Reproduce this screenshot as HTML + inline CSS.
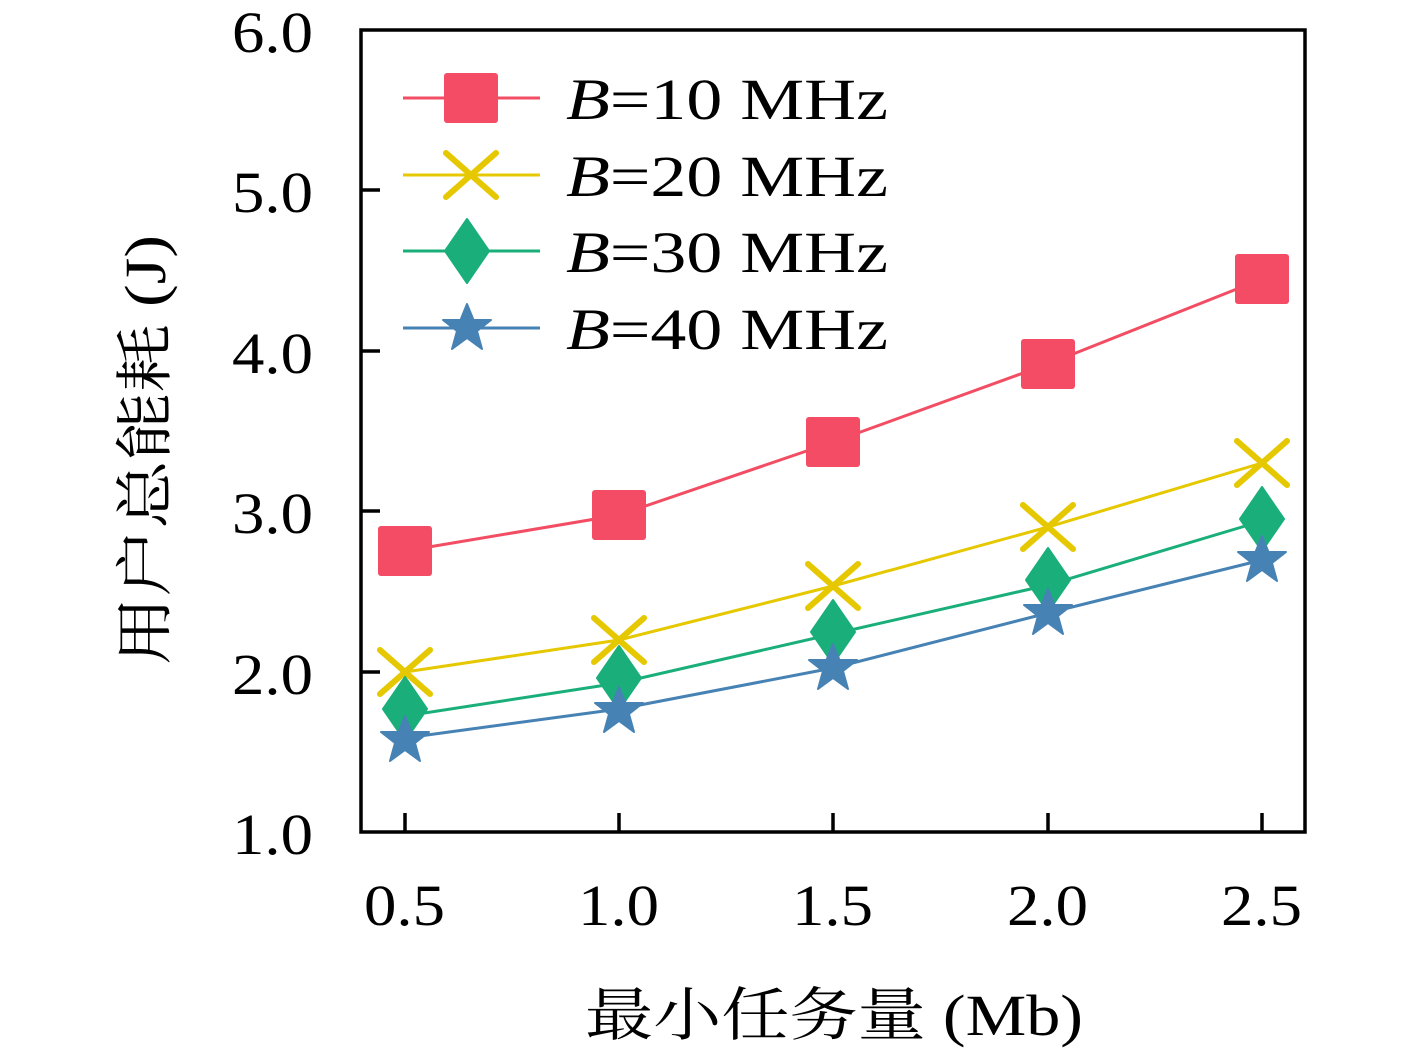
<!DOCTYPE html>
<html><head><meta charset="utf-8"><style>html,body{margin:0;padding:0;background:#fff}svg{display:block}</style></head>
<body>
<svg width="1417" height="1050" viewBox="0 0 1417 1050" xmlns="http://www.w3.org/2000/svg" font-family="'Liberation Serif','Noto Serif CJK SC',serif">
<defs>
<rect id="sq" x="-27" y="-25" width="54" height="50" rx="3" fill="#f44c64"/>
<g id="xx" stroke="#e6c800" stroke-width="6" stroke-linecap="round"><line x1="-25" y1="-22" x2="25" y2="22"/><line x1="-25" y1="22" x2="25" y2="-22"/></g>
<path id="dm" d="M0,-32 L22,0 L0,32 L-22,0 Z" fill="#1aaf7a" stroke="#1aaf7a" stroke-width="2" stroke-linejoin="round"/>
<path id="st" d="M0,-24 L6.5,-8 L24,-8 L10,3 L15,21 L0,10 L-15,21 L-10,3 L-24,-8 L-6.5,-8 Z" fill="#4682b4" stroke="#4682b4" stroke-width="2" stroke-linejoin="round"/>
</defs>
<g stroke="#000" stroke-width="3.5" fill="none">
<rect x="361" y="30" width="944" height="802"/>
<path d="M405,832v-19M619,832v-19M833,832v-19M1048,832v-19M1262,832v-19"/>
<path d="M361,190h19M361,351h19M361,511h19M361,672h19"/>
</g>
<g font-size="58" fill="#000" lengthAdjust="spacingAndGlyphs">
<text x="232" y="52" textLength="81" lengthAdjust="spacingAndGlyphs">6.0</text>
<text x="232" y="212" textLength="81" lengthAdjust="spacingAndGlyphs">5.0</text>
<text x="232" y="373" textLength="81" lengthAdjust="spacingAndGlyphs">4.0</text>
<text x="232" y="533" textLength="81" lengthAdjust="spacingAndGlyphs">3.0</text>
<text x="232" y="694" textLength="81" lengthAdjust="spacingAndGlyphs">2.0</text>
<text x="232" y="854" textLength="81" lengthAdjust="spacingAndGlyphs">1.0</text>
</g>
<g font-size="58" fill="#000">
<text x="364" y="925" textLength="81" lengthAdjust="spacingAndGlyphs">0.5</text>
<text x="578" y="925" textLength="81" lengthAdjust="spacingAndGlyphs">1.0</text>
<text x="792" y="925" textLength="81" lengthAdjust="spacingAndGlyphs">1.5</text>
<text x="1007" y="925" textLength="81" lengthAdjust="spacingAndGlyphs">2.0</text>
<text x="1221" y="925" textLength="81" lengthAdjust="spacingAndGlyphs">2.5</text>
</g>
<text x="585" y="1035" font-size="58" textLength="498" lengthAdjust="spacingAndGlyphs">最小任务量 (Mb)</text>
<text transform="translate(165,665) rotate(-90)" font-size="58" textLength="430" lengthAdjust="spacingAndGlyphs">用户总能耗 (J)</text>
<g fill="none" stroke-width="3">
<polyline stroke="#f24d63" points="405,551 619,515 833,442 1048,364 1262,279"/>
<polyline stroke="#e6c800" points="405,672 619,640 833,586 1048,527 1262,463"/>
<polyline stroke="#1aaf7a" points="405,716 619,683 833,634 1048,585 1262,521"/>
<polyline stroke="#4682b4" points="405,738 619,709 833,668 1048,613 1262,560"/>
</g>
<use href="#sq" x="405" y="551"/><use href="#sq" x="619" y="515"/><use href="#sq" x="833" y="442"/><use href="#sq" x="1048" y="364"/><use href="#sq" x="1262" y="279"/>
<use href="#xx" x="405" y="672"/><use href="#xx" x="619" y="640"/><use href="#xx" x="833" y="586"/><use href="#xx" x="1048" y="527"/><use href="#xx" x="1262" y="463"/>
<use href="#dm" x="405" y="709"/><use href="#dm" x="619" y="678"/><use href="#dm" x="833" y="632"/><use href="#dm" x="1048" y="580"/><use href="#dm" x="1262" y="519"/>
<use href="#st" x="405" y="740"/><use href="#st" x="619" y="711"/><use href="#st" x="833" y="668"/><use href="#st" x="1048" y="613"/><use href="#st" x="1262" y="560"/>
<g stroke-width="3">
<line x1="403" y1="98" x2="540" y2="98" stroke="#f24d63"/>
<line x1="403" y1="175" x2="540" y2="175" stroke="#e6c800"/>
<line x1="403" y1="251" x2="540" y2="251" stroke="#1aaf7a"/>
<line x1="403" y1="328" x2="540" y2="328" stroke="#4682b4"/>
</g>
<use href="#sq" x="471" y="98"/><use href="#xx" x="471" y="175"/><use href="#dm" x="467" y="251"/><use href="#st" x="467" y="328"/>
<g font-size="58" fill="#000">
<text x="566" y="119" textLength="322" lengthAdjust="spacingAndGlyphs"><tspan font-style="italic">B</tspan>=10 MHz</text>
<text x="566" y="196" textLength="322" lengthAdjust="spacingAndGlyphs"><tspan font-style="italic">B</tspan>=20 MHz</text>
<text x="566" y="272" textLength="322" lengthAdjust="spacingAndGlyphs"><tspan font-style="italic">B</tspan>=30 MHz</text>
<text x="566" y="349" textLength="322" lengthAdjust="spacingAndGlyphs"><tspan font-style="italic">B</tspan>=40 MHz</text>
</g>
</svg>
</body></html>
